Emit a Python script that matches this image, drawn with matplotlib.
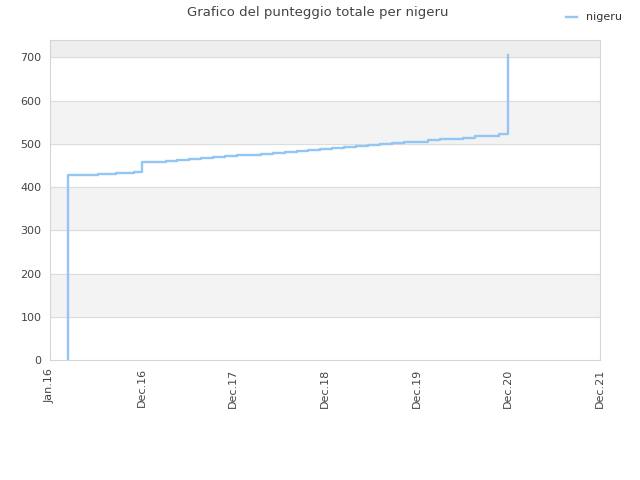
import matplotlib
matplotlib.use("Agg")
import matplotlib.pyplot as plt

# x positions in "periods" from the left edge of the axis (Jan.16 = 0, Dec.16 = 1, ...)
tick_labels = ["Jan.16", "Dec.16", "Dec.17", "Dec.18", "Dec.19", "Dec.20", "Dec.21"]

x_pts = [0.196, 0.196, 0.196, 0.196, 0.196, 0.196,
         0.32, 0.52, 0.72, 0.92, 1.0,
         1.13, 1.26, 1.39, 1.52, 1.65, 1.78, 1.91, 2.04, 2.17, 2.30,
         2.43, 2.56, 2.69, 2.82, 2.95, 3.08, 3.21, 3.34, 3.47, 3.60,
         3.73, 3.86, 3.99, 4.12, 4.25, 4.38, 4.51, 4.64, 4.77, 4.90,
         5.0, 5.0, 5.0, 5.0]
y_pts = [0, 40, 150, 280, 375, 427,
         428, 430, 432, 434, 457,
         459, 461, 463, 465, 467, 469, 471, 473, 475, 477,
         479, 482, 484, 486, 488, 491, 493, 495, 497, 499,
         501, 503, 505, 508, 510, 512, 514, 517, 519, 522,
         527, 580, 620, 705]

fig = plt.figure(figsize=(6.4, 4.8), dpi=100)
ax = fig.add_axes([50/640, 1-360/480, 550/640, 320/480])

# alternating background bands
for lo in range(100, 800, 200):
    ax.axhspan(lo, lo+100, color="#f3f3f3", zorder=0)
ax.axhspan(700, 740, color="#eeeeee", zorder=0)
for y in range(100, 800, 100):
    ax.axhline(y, color="#dddddd", lw=0.8, zorder=1)

ax.plot(x_pts, y_pts, drawstyle="steps-post", color="#94c6f4", lw=1.7,
        label="nigeru", zorder=3)

ax.set_xlim(0, 6)
ax.set_ylim(0, 740)
ax.set_xticks(range(len(tick_labels)))
ax.set_xticklabels(tick_labels, rotation=90)
ax.set_yticks(range(0, 800, 100))
ax.tick_params(length=0, labelsize=8, colors="#444444", pad=6)
for s in ax.spines.values():
    s.set_color("#d5d5d5")

fig.suptitle("Grafico del punteggio totale per nigeru", x=0.497, y=0.987,
             fontsize=9.5, color="#444444")
fig.legend(loc="upper right", bbox_to_anchor=(0.987, 0.995), frameon=False,
           fontsize=8, handlelength=1.0, labelcolor="#333333")

fig.savefig("out.png")
